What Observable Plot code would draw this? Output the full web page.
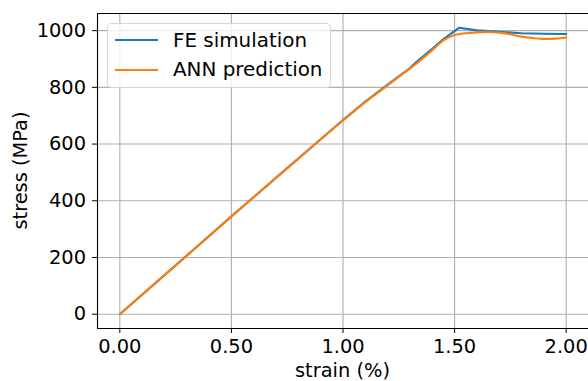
<!DOCTYPE html>
<html>
<head>
<meta charset="utf-8">
<script src="https://cdn.jsdelivr.net/npm/d3@7"></script>
<script src="https://cdn.jsdelivr.net/npm/@observablehq/plot@0.6"></script>
<style>
  html, body { margin: 0; padding: 0; background: #fff; }
  #wrap { position: relative; width: 588px; height: 381px; font-family: "DejaVu Sans", sans-serif; }
  #legend { position: absolute; left: 107px; top: 23px; width: 224px; height: 65px;
    border: 1px solid #d6d6d6; border-radius: 4px; background: rgba(255,255,255,0.8);
    box-sizing: border-box; }
  .item { position: absolute; left: 7px; height: 20px; display: flex; align-items: center; font-size: 19.9px; color: #000; white-space: nowrap; }
  .item svg { margin-right: 15px; }
</style>
</head>
<body>
<div id="wrap"></div>
<script>
const feStrain  = [0, 0.25, 0.5, 0.75, 1.0, 1.1, 1.2, 1.3, 1.33, 1.4, 1.45, 1.52, 1.6, 1.7, 1.8, 1.9, 2.0];
const feStress  = [0, 172, 345, 515, 685, 750, 810, 868, 890, 936, 970, 1010, 1001, 996, 991, 989, 988];
const annStrain = [0, 0.25, 0.5, 0.75, 1.0, 1.1, 1.2, 1.27, 1.33, 1.4, 1.45, 1.5, 1.55, 1.6, 1.65, 1.7, 1.75, 1.8, 1.85, 1.9, 1.95, 2.0];
const annStress = [0, 172, 345, 515, 683, 748, 807, 849, 884, 931, 966, 985, 991, 994, 995, 993, 987, 979, 974, 971, 972, 976];
const seriesNames = ["FE simulation", "ANN prediction"];
const seriesColors = ["#1f77b4", "#ff7f0e"];
const xTicks = [0, 0.5, 1.0, 1.5, 2.0];
const yTicks = [0, 200, 400, 600, 800, 1000];

const fe = feStrain.map((x, i) => ({x, y: feStress[i], s: seriesNames[0]}));
const ann = annStrain.map((x, i) => ({x, y: annStress[i], s: seriesNames[1]}));

const xExt = d3.extent([...feStrain, ...annStrain]);
const yExt = d3.extent([...feStress, ...annStress]);
const xPad = (xExt[1] - xExt[0]) * 0.05, yPad = (yExt[1] - yExt[0]) * 0.05;
const xDom = [xExt[0] - xPad, xExt[1] + xPad];
const yDom = [yExt[0] - yPad, yExt[1] + yPad];

const plot = Plot.plot({
  width: 588, height: 381,
  marginLeft: 97, marginRight: 0, marginTop: 13, marginBottom: 53,
  style: {fontFamily: "DejaVu Sans, sans-serif", fontSize: "19.4px", color: "#000", background: "#fff", overflow: "visible"},
  x: {domain: xDom},
  y: {domain: yDom},
  marks: [
    Plot.gridX(xTicks, {stroke: "#b0b0b0", strokeOpacity: 1, strokeWidth: 1.1}),
    Plot.gridY(yTicks, {stroke: "#b0b0b0", strokeOpacity: 1, strokeWidth: 1.1}),
    Plot.line(fe, {x: "x", y: "y", stroke: seriesColors[0], strokeWidth: 2.1}),
    Plot.line(ann, {x: "x", y: "y", stroke: seriesColors[1], strokeWidth: 2.1, curve: "monotone-x"}),
    Plot.ruleX([xDom[0]], {stroke: "#000", strokeWidth: 1.1}),
    Plot.ruleY([yDom[0], yDom[1]], {stroke: "#000", strokeWidth: 1.1}),
    Plot.axisX(xTicks, {tickFormat: d3.format(".2f"), tickSize: 5, tickPadding: 6, label: null, fontSize: 19.4}),
    Plot.axisY(yTicks, {tickFormat: d3.format("d"), tickSize: 5, tickPadding: 6.5, label: null, fontSize: 19.4})
  ]
});

const svg = d3.select(plot);
svg.append("text").attr("x", 342.5).attr("y", 376.5).attr("text-anchor", "middle")
  .attr("font-size", 19.4).attr("fill", "#000").text("strain (%)");
svg.append("text").attr("transform", "translate(27,170.5) rotate(-90)").attr("text-anchor", "middle")
  .attr("font-size", 19.4).attr("fill", "#000").text("stress (MPa)");

const wrap = document.getElementById("wrap");
wrap.appendChild(plot);

const legend = document.createElement("div");
legend.id = "legend";
seriesNames.forEach((name, i) => {
  const it = document.createElement("div");
  it.className = "item";
  it.style.top = (i === 0 ? 6 : 35.5) + "px";
  it.innerHTML = `<svg width="43" height="4"><line x1="0" x2="43" y1="2" y2="2" stroke="${seriesColors[i]}" stroke-width="2.1"/></svg><span>${name}</span>`;
  legend.appendChild(it);
});
wrap.appendChild(legend);
</script>
</body>
</html>
